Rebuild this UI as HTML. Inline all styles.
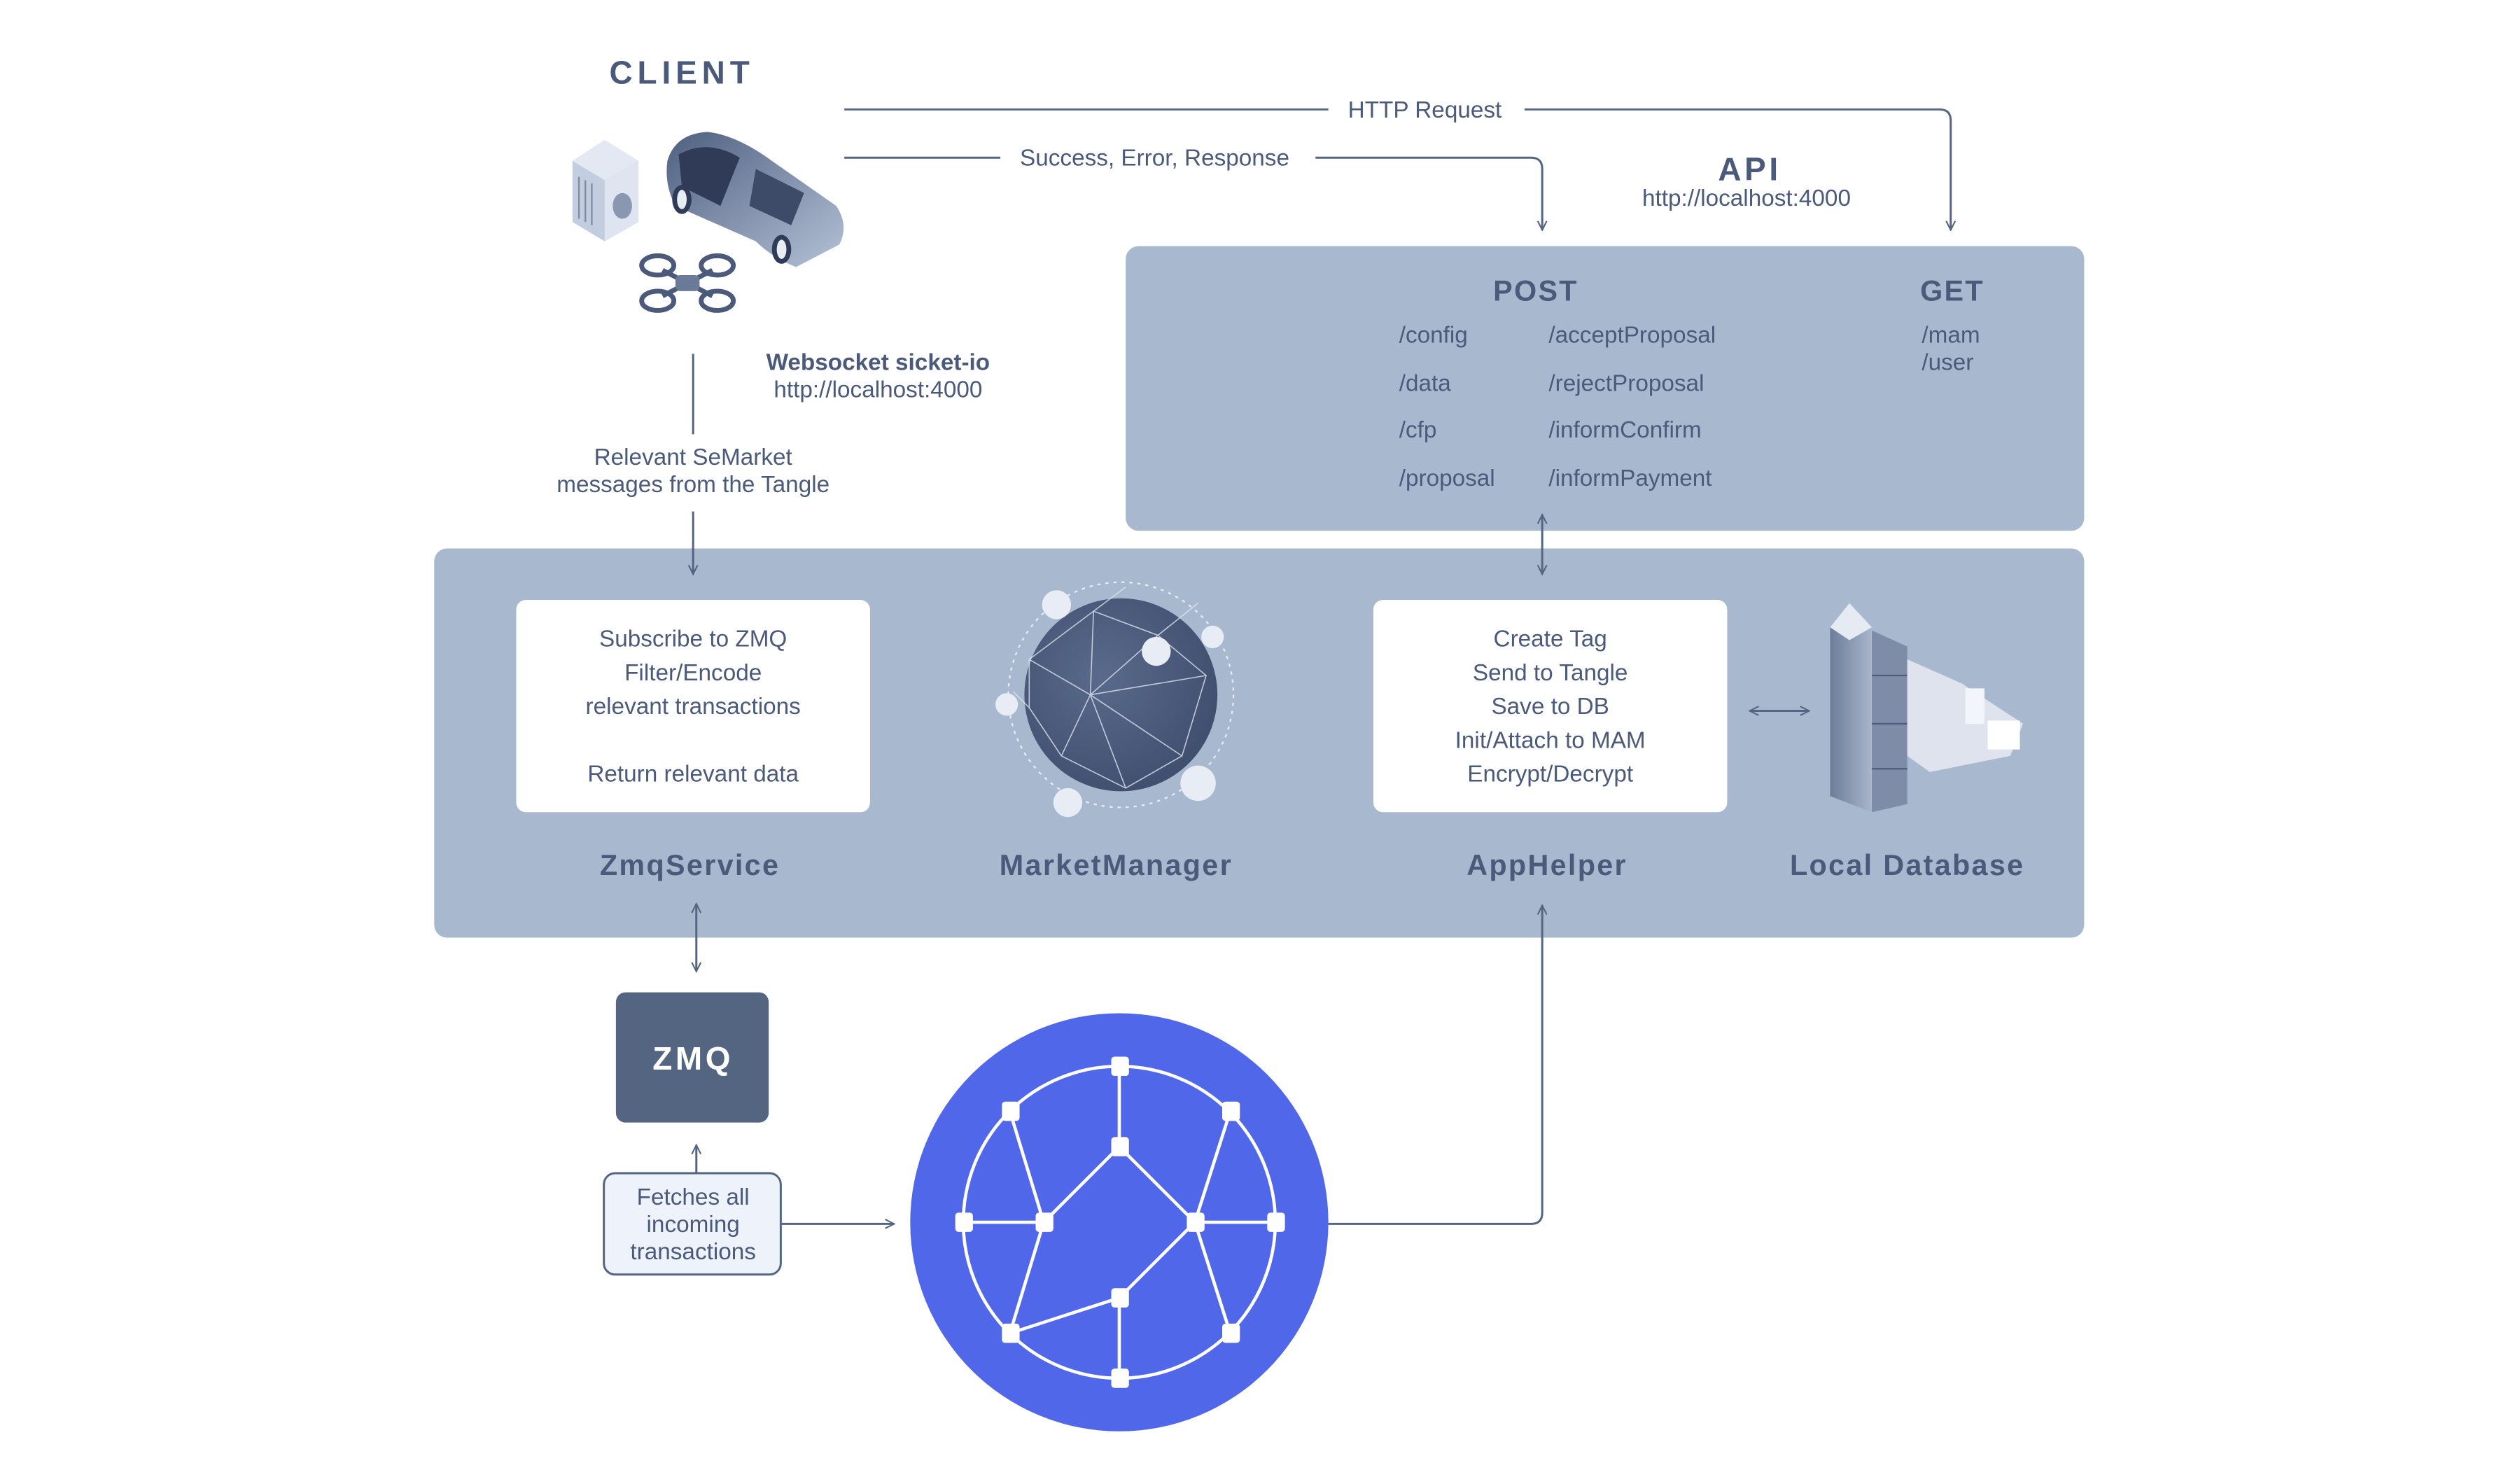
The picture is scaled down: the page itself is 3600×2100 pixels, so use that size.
<!DOCTYPE html>
<html><head><meta charset="utf-8"><style>
html,body{margin:0;padding:0;background:#fff;width:3600px;height:2100px;overflow:hidden}
svg{display:block}
text{font-family:"Liberation Sans",sans-serif;fill:#4b5a7b}
</style></head><body>
<svg width="3600" height="2100" viewBox="0 0 1567 914" xmlns="http://www.w3.org/2000/svg">
<defs>
<marker id="ah" viewBox="0 0 10 10" refX="9" refY="5" markerWidth="7" markerHeight="7" orient="auto-start-reverse" markerUnits="userSpaceOnUse">
<path d="M1,1 L9,5 L1,9" fill="none" stroke="#546582" stroke-width="1.3"/></marker>
<radialGradient id="gl" cx="0.4" cy="0.4" r="0.7"><stop offset="0" stop-color="#5a6a8c"/><stop offset="1" stop-color="#3e4c6c"/></radialGradient>
<linearGradient id="car" x1="0" y1="0" x2="1" y2="1"><stop offset="0" stop-color="#4f5f80"/><stop offset="1" stop-color="#b4c1d6"/></linearGradient>
<linearGradient id="cab" x1="0" y1="0" x2="1" y2="0"><stop offset="0" stop-color="#6d7c99"/><stop offset="1" stop-color="#a9b6cb"/></linearGradient>
</defs>

<!-- CLIENT -->
<text x="424" y="52" font-size="20" font-weight="bold" text-anchor="middle" letter-spacing="3">CLIENT</text>
<path d="M356,100 L376,87 L397,100 L397,138 L376,150 L356,138 Z" fill="#c3cde0"/>
<path d="M356,100 L376,87 L397,100 L376,112 Z" fill="#e3e8f2"/>
<path d="M376,112 L397,100 L397,138 L376,150 Z" fill="#dfe5f0"/>
<ellipse cx="387" cy="128" rx="6" ry="8" fill="#8a97b0"/>
<path d="M360,110 v26 M364,112 v26 M368,114 v26" stroke="#7d8aa5" stroke-width="1"/>
<path d="M415,100 Q420,83 440,82 Q458,84 480,100 L520,128 Q528,140 522,152 L495,166 Q480,160 470,150 L420,128 Q413,115 415,100 Z" fill="url(#car)"/>
<path d="M422,96 Q440,86 460,98 L448,128 L424,116 Z" fill="#2f3b57"/>
<path d="M470,105 L500,120 L492,140 L466,128 Z" fill="#3e4b68"/>
<ellipse cx="424" cy="124" rx="6" ry="9" fill="#2f3b57"/><ellipse cx="424" cy="124" rx="3" ry="6" fill="#e8ecf3"/>
<ellipse cx="486" cy="155" rx="6" ry="9" fill="#2f3b57"/><ellipse cx="486" cy="155" rx="3" ry="6" fill="#e8ecf3"/>
<g fill="none" stroke="#4b5a7b" stroke-width="3">
<ellipse cx="409" cy="165" rx="10" ry="6"/><ellipse cx="446" cy="165" rx="10" ry="6"/>
<ellipse cx="409" cy="187" rx="10" ry="6"/><ellipse cx="446" cy="187" rx="10" ry="6"/>
<path d="M412,168 L443,184 M443,168 L412,184"/></g>
<rect x="420" y="171" width="15" height="10" rx="3" fill="#6b7a98"/>

<text x="886" y="73" font-size="14.5" text-anchor="middle">HTTP Request</text>
<text x="718" y="103" font-size="14.5" text-anchor="middle">Success, Error, Response</text>
<text x="1088" y="112" font-size="20" font-weight="bold" text-anchor="middle" letter-spacing="2">API</text>
<text x="1086" y="128" font-size="14.5" text-anchor="middle">http://localhost:4000</text>
<text x="546" y="230" font-size="14.5" font-weight="bold" text-anchor="middle">Websocket sicket-io</text>
<text x="546" y="247" font-size="14.5" text-anchor="middle">http://localhost:4000</text>
<text x="431" y="289" font-size="14.5" text-anchor="middle">Relevant SeMarket</text>
<text x="431" y="306" font-size="14.5" text-anchor="middle">messages from the Tangle</text>

<!-- API box -->
<rect x="700" y="153" width="596" height="177" rx="8" fill="#a8b9cf"/>
<text x="955" y="187" font-size="18" font-weight="bold" text-anchor="middle" letter-spacing="1">POST</text>
<text x="1214" y="187" font-size="18" font-weight="bold" text-anchor="middle" letter-spacing="1">GET</text>
<g font-size="14.5">
<text x="870" y="213">/config</text><text x="870" y="243">/data</text><text x="870" y="272">/cfp</text><text x="870" y="302">/proposal</text>
<text x="963" y="213">/acceptProposal</text><text x="963" y="243">/rejectProposal</text><text x="963" y="272">/informConfirm</text><text x="963" y="302">/informPayment</text>
<text x="1195" y="213">/mam</text><text x="1195" y="230">/user</text>
</g>

<!-- main box -->
<rect x="270" y="341" width="1026" height="242" rx="8" fill="#a8b9cf"/>
<rect x="321" y="373" width="220" height="132" rx="6" fill="#fff"/>
<rect x="854" y="373" width="220" height="132" rx="6" fill="#fff"/>
<g font-size="14.5" text-anchor="middle">
<text x="431" y="402">Subscribe to ZMQ</text><text x="431" y="423">Filter/Encode</text><text x="431" y="444">relevant transactions</text><text x="431" y="486">Return relevant data</text>
<text x="964" y="402">Create Tag</text><text x="964" y="423">Send to Tangle</text><text x="964" y="444">Save to DB</text><text x="964" y="465">Init/Attach to MAM</text><text x="964" y="486">Encrypt/Decrypt</text>
</g>
<g font-size="18" font-weight="bold" text-anchor="middle" letter-spacing="1">
<text x="429" y="544">ZmqService</text><text x="694" y="544">MarketManager</text><text x="962" y="544">AppHelper</text><text x="1186" y="544">Local Database</text>
</g>
<!-- globe -->
<circle cx="697" cy="432" r="70" fill="none" stroke="#e6ebf4" stroke-width="1" stroke-dasharray="2 3"/>
<circle cx="697" cy="432" r="60" fill="url(#gl)"/>
<g stroke="#dfe5f0" stroke-width="0.7" fill="none" opacity="0.8">
<path d="M640,410 L680,380 L720,395 L750,420 L735,470 L700,490 L660,470 L640,440 Z"/>
<path d="M680,380 L678,432 L720,395 M678,432 L750,420 M678,432 L735,470 M678,432 L700,490 M678,432 L660,470 M678,432 L640,410 M700,365 L680,380 M720,395 L745,375 M630,430 L640,440"/>
</g>
<g fill="#e8ecf4"><circle cx="657" cy="376" r="9"/><circle cx="754" cy="396" r="7"/><circle cx="719" cy="405" r="9"/><circle cx="626" cy="438" r="7"/><circle cx="745" cy="487" r="11"/><circle cx="664" cy="499" r="9"/></g>
<!-- database -->
<path d="M1138,390 L1150,375 L1164,390 L1164,505 L1138,495 Z" fill="url(#cab)"/>
<path d="M1138,390 L1150,375 L1164,390 L1150,398 Z" fill="#e6ebf3"/>
<path d="M1164,392 L1186,402 L1186,500 L1164,505 Z" fill="#7e8ca8"/>
<g stroke="#4f5d7d" stroke-width="1"><path d="M1164,420 H1186 M1164,450 H1186 M1164,478 H1186"/></g>
<path d="M1186,410 L1220,425 L1258,450 L1250,470 L1200,480 L1186,470 Z" fill="#e3e8f1" opacity="0.9"/>
<rect x="1222" y="428" width="12" height="22" fill="#f2f5f9"/>
<rect x="1236" y="448" width="20" height="18" fill="#fff"/>

<!-- ZMQ -->
<rect x="383" y="617" width="95" height="81" rx="6" fill="#546582"/>
<text x="431" y="665" font-size="20" font-weight="bold" text-anchor="middle" letter-spacing="2" style="fill:#fff">ZMQ</text>
<rect x="375.5" y="729.5" width="110" height="63" rx="7" fill="#eef2fa" stroke="#546582" stroke-width="1.3"/>
<g font-size="14.5" text-anchor="middle"><text x="431" y="749">Fetches all</text><text x="431" y="766">incoming</text><text x="431" y="783">transactions</text></g>

<!-- tangle -->
<circle cx="696" cy="760" r="130" fill="#5067e9"/>
<g fill="none" stroke="#fff" stroke-width="2">
<ellipse cx="696" cy="760" rx="97" ry="97"/>
<path d="M696,663 V713 L649,760 L628,691 M696,713 L743,760 L765,691 M599,760 H649 M743,760 H793 M649,760 L628,829 M743,760 L696,807 L628,829 M743,760 L765,829 M696,807 V857"/>
</g>
<g fill="#fff">
<rect x="691" y="657" width="11" height="12" rx="2"/><rect x="623" y="685" width="11" height="12" rx="2"/><rect x="760" y="685" width="11" height="12" rx="2"/>
<rect x="691" y="707" width="11" height="12" rx="2"/><rect x="594" y="754" width="11" height="12" rx="2"/><rect x="644" y="754" width="11" height="12" rx="2"/>
<rect x="738" y="754" width="11" height="12" rx="2"/><rect x="788" y="754" width="11" height="12" rx="2"/><rect x="691" y="801" width="11" height="12" rx="2"/>
<rect x="623" y="823" width="11" height="12" rx="2"/><rect x="760" y="823" width="11" height="12" rx="2"/><rect x="691" y="851" width="11" height="12" rx="2"/>
</g>

<!-- connectors on top -->
<g fill="none" stroke="#546582" stroke-width="1.3">
<path d="M525,68 H826"/>
<path d="M948,68 H1206 Q1213,68 1213,75 V143" marker-end="url(#ah)"/>
<path d="M525,98 H622"/>
<path d="M818,98 H952 Q959,98 959,105 V143" marker-end="url(#ah)"/>
<path d="M431,220 V270"/>
<path d="M431,318 V357" marker-end="url(#ah)"/>
<path d="M959,357 V320" marker-start="url(#ah)" marker-end="url(#ah)"/>
<path d="M433,562 V604" marker-start="url(#ah)" marker-end="url(#ah)"/>
<path d="M1088,442 H1125" marker-start="url(#ah)" marker-end="url(#ah)"/>
<path d="M433,729 V712" marker-end="url(#ah)"/>
<path d="M486,761 H556" marker-end="url(#ah)"/>
<path d="M826,761 H952 Q959,761 959,754 V563" marker-end="url(#ah)"/>
</g>
</svg>
</body></html>
